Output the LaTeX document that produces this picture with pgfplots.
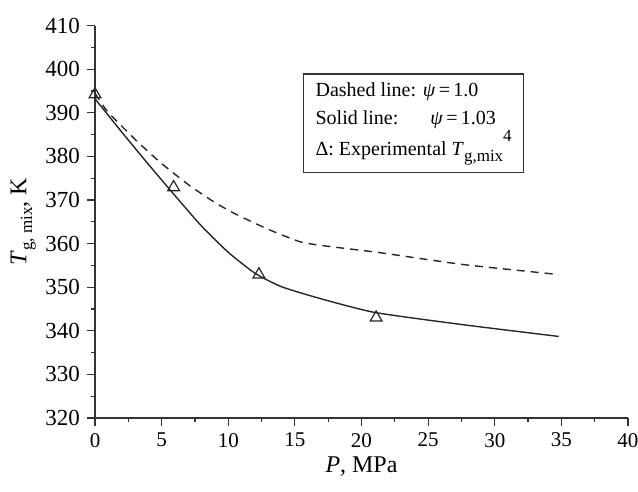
\documentclass[border=0pt]{standalone}
\usepackage{fontspec}
\setmainfont{Liberation Serif}
\usepackage{pgfplots}
\pgfplotsset{compat=1.18}
\newcommand{\sub}[1]{\raisebox{-2.8pt}{\fontsize{8.5}{9}\selectfont #1}}
\begin{document}
\begin{tikzpicture}[x=1pt,y=1pt]
\path[use as bounding box] (0,0) rectangle (319,246);
\begin{axis}[
  at={(47.5pt,37pt)}, anchor=south west,
  scale only axis, width=266.5pt, height=196.25pt,
  xmin=0, xmax=40, ymin=320, ymax=410,
  axis x line*=bottom, axis y line*=left,
  axis line style={line width=0.7pt, black!80},
  xtick={0,5,...,40}, ytick={320,330,...,410},
  minor x tick num=1, minor y tick num=1,
  tick align=outside,
  major tick length=4pt, minor tick length=2pt,
  tick style={line width=0.6pt, black!80},
  /pgf/number format/assume math mode=true,
  xticklabel style={font=\fontsize{10.5}{12}\selectfont},
  yticklabel style={font=\fontsize{11.5}{13}\selectfont},
  xlabel={\textit{P}, MPa},
  ylabel={\textit{T}\sub{g, mix}, K},
  xlabel style={font=\fontsize{12}{14}\selectfont, yshift=2pt},
  ylabel style={font=\fontsize{12}{14}\selectfont, yshift=-2pt},
  clip=false,
]
\addplot[black!85, line width=0.7pt, dash pattern=on 4pt off 3pt, smooth, tension=0.35] coordinates {
(0,394.5) (0.9,390.4) (2.9,384.2) (4.9,378.6) (7.1,373.3) (8.9,369.6) (10.4,367.0) (12.9,363.4) (15.4,360.4) (17.4,359.4) (21.4,357.9) (27.6,355.2) (34.8,352.9)
};
\addplot[black!85, line width=0.7pt, smooth, tension=0.35] coordinates {
(0,393.2) (2,385.6) (4,378.2) (6,371.0) (8,364.0) (10,358.0) (12,353.2) (14,350.1) (17,347.3) (21,344.2) (27.6,341.4) (34.8,338.7)
};
\addplot[only marks, mark=triangle, mark size=3.4pt, black!85, mark options={line width=0.6pt, fill=white}] coordinates {
(0,394.2) (5.9,372.9) (12.3,352.9) (21.1,343)
};
\node[draw=black!80, line width=0.7pt, anchor=north west, inner xsep=6pt, inner ysep=4pt, align=left,
  font=\fontsize{10}{14}\selectfont, minimum width=103pt, minimum height=45.75pt]
  at (axis cs:15.6,399) {Dashed line: \textit{ψ}\,=\,1.0\\Solid line:\hspace{1.6em}\textit{ψ}\,=\,1.03\\Δ: Experimental \textit{T}\sub{g,mix}\raisebox{7pt}{\fontsize{8.5}{9}\selectfont 4}};
\end{axis}
\end{tikzpicture}
\end{document}
